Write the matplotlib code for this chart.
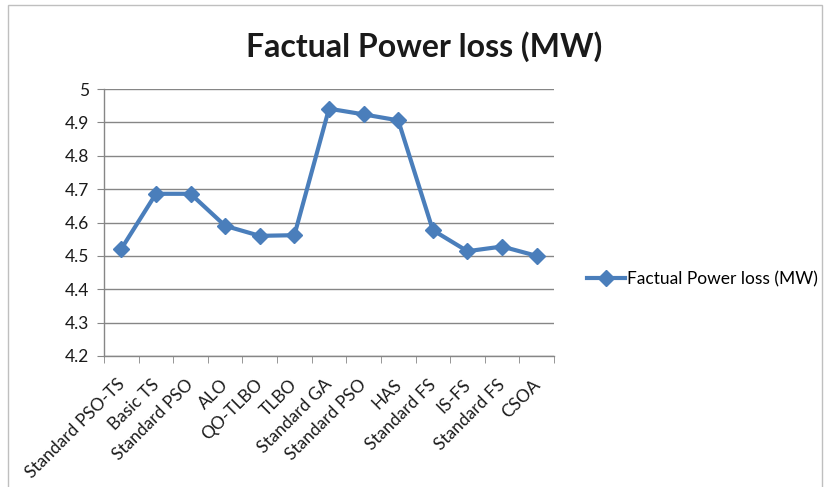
import matplotlib.pyplot as plt
from matplotlib.patches import Rectangle
from matplotlib.lines import Line2D
from matplotlib.transforms import ScaledTranslation
import numpy as np

methods = ['Standard PSO-TS', 'Basic TS', 'Standard PSO', 'ALO', 'QO-TLBO', 'TLBO',
           'Standard GA', 'Standard PSO', 'HAS', 'Standard FS', 'IS-FS', 'Standard FS', 'CSOA']
power_loss = [4.521, 4.686, 4.686, 4.590, 4.560, 4.562, 4.941, 4.924, 4.906,
              4.577, 4.514, 4.528, 4.500]
yticks = [4.2, 4.3, 4.4, 4.5, 4.6, 4.7, 4.8, 4.9, 5.0]
series_name = 'Factual Power loss (MW)'

plt.rcParams['font.family'] = ['Lato', 'DejaVu Sans']
blue = '#4a7ebb'
axis_gray = '#868686'

fig = plt.figure(figsize=(8.25, 4.87), dpi=100)
ax = fig.add_axes([104 / 825, 1 - 356 / 487, 450 / 825, 267 / 487])

# chart outer border
fig.patches.append(Rectangle((8 / 825, -0.02), 814 / 825, 1 - 5 / 487 + 0.02,
                             transform=fig.transFigure, fill=False,
                             edgecolor='#bfbfbf', linewidth=1))

x = np.arange(len(methods))
ax.plot(x, power_loss, color=blue, linewidth=3, marker='D', markersize=8,
        markerfacecolor=blue, markeredgecolor=blue, label=series_name)

ax.set_xlim(-0.5, len(methods) - 0.5)
ax.set_ylim(4.2, 5.0)
ax.set_yticks(yticks)
ax.set_yticklabels(['4.2', '4.3', '4.4', '4.5', '4.6', '4.7', '4.8', '4.9', '5'])
ax.yaxis.grid(True, color=axis_gray, linewidth=1)
ax.set_axisbelow(True)

ax.set_xticks(x)
ax.set_xticklabels(methods, rotation=45, ha='right', va='top', rotation_mode='anchor')
ax.set_xticks(np.arange(-0.5, len(methods), 1), minor=True)
ax.tick_params(axis='x', which='major', length=0, pad=6, labelsize=12.5, colors='#1a1a1a')
ax.tick_params(axis='x', which='minor', length=5, color=axis_gray, direction='out')
ax.tick_params(axis='y', length=5, color=axis_gray, labelsize=12.5, colors='#1a1a1a', pad=6)

# nudge the slanted labels down and left like the original
shift = ScaledTranslation(-5 / 100, -12 / 100, fig.dpi_scale_trans)
for lbl in ax.get_xticklabels():
    lbl.set_transform(lbl.get_transform() + shift)

for side in ['top', 'right']:
    ax.spines[side].set_visible(False)
for side in ['left', 'bottom']:
    ax.spines[side].set_color(axis_gray)
    ax.spines[side].set_linewidth(1)

fig.text(424 / 825, 1 - 47 / 487, 'Factual Power loss (MW)', ha='center', va='center',
         fontsize=23, fontweight='bold', color='#1a1a1a')

handle = Line2D([], [], color=blue, linewidth=3, marker='D', markersize=8)
fig.legend([handle], [series_name], loc='center left',
           bbox_to_anchor=(571 / 825, 1 - 279 / 487), frameon=False,
           fontsize=12.5, handlelength=2.2, handletextpad=0.1)

fig.savefig('out.png', dpi=100)
